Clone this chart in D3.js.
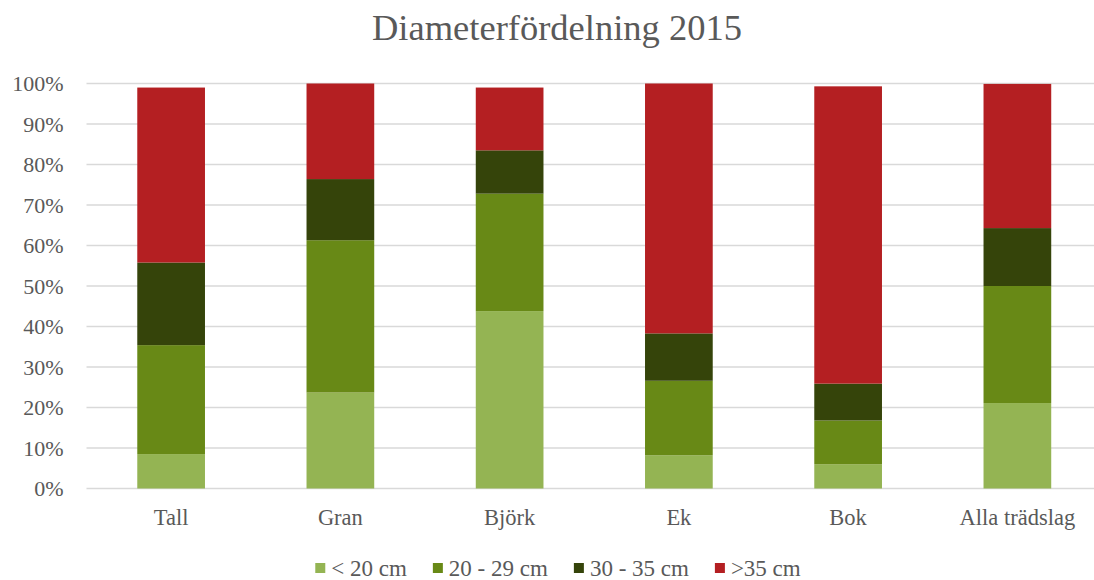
<!DOCTYPE html>
<html>
<head>
<meta charset="utf-8">
<script src="https://cdn.jsdelivr.net/npm/d3@7"></script>
<style>
  body { margin: 0; background: #fff; }
  svg { display: block; }
  text { font-family: "Liberation Serif", "Times New Roman", serif; fill: #595959; }
</style>
</head>
<body>
<div id="chart"></div>
<script>
// trädslag och diameterklasser
let categories = ['Tall', 'Gran', 'Björk', 'Ek', 'Bok', 'Alla trädslag'];
let series_names = ['< 20 cm', '20 - 29 cm', '30 - 35 cm', '>35 cm'];
let series_colors = ['#94b453', '#688916', '#35440a', '#b41f22'];

// andel i procent
let under20 = [8.5, 23.7, 43.8, 8.2, 6.0, 21.1];
let d20_29 = [26.9, 37.6, 29.0, 18.4, 10.8, 28.9];
let d30_35 = [20.4, 15.1, 10.7, 11.7, 9.1, 14.3];
let over35 = [43.2, 23.6, 15.5, 61.7, 73.4, 35.6];

let y_ticks = [0, 10, 20, 30, 40, 50, 60, 70, 80, 90, 100];

function draw_chart(containerid) {
    let width = 1094, height = 580;
    let svg = d3.select('#' + containerid).append('svg')
        .attr('width', width)
        .attr('height', height);

    let margin = ({ top: 83.5, right: -8, bottom: 91.5, left: 86.5 });

    let x = d3.scaleBand(categories, [margin.left, width - margin.right])
        .paddingInner(0.6)
        .paddingOuter(0.3);
    let y = d3.scaleLinear([0, 100], [height - margin.bottom, margin.top]);

    // rutnät
    svg.append('g')
        .selectAll('line')
        .data(y_ticks)
        .join('line')
        .attr('x1', margin.left)
        .attr('x2', width - margin.right)
        .attr('y1', d => y(d))
        .attr('y2', d => y(d))
        .attr('stroke', '#d9d9d9')
        .attr('stroke-width', 1.5);

    // y-axelns etiketter
    svg.append('g')
        .selectAll('text')
        .data(y_ticks)
        .join('text')
        .attr('x', 63.5)
        .attr('y', d => y(d))
        .attr('dy', '0.35em')
        .attr('text-anchor', 'end')
        .style('font-size', '22px')
        .text(d => d + '%');

    // staplade data
    let table = categories.map((c, i) => ({
        cat: c,
        s0: under20[i], s1: d20_29[i], s2: d30_35[i], s3: over35[i]
    }));
    let keys = ['s0', 's1', 's2', 's3'];
    let stacked = d3.stack().keys(keys)(table);

    svg.append('g')
        .selectAll('g')
        .data(stacked)
        .join('g')
        .attr('fill', (d, i) => series_colors[i])
        .selectAll('rect')
        .data(d => d)
        .join('rect')
        .attr('x', d => x(d.data.cat))
        .attr('width', x.bandwidth())
        .attr('y', d => y(d[1]))
        .attr('height', d => y(d[0]) - y(d[1]));

    // kategorier
    svg.append('g')
        .selectAll('text')
        .data(categories)
        .join('text')
        .attr('x', d => x(d) + x.bandwidth() / 2)
        .attr('y', 525)
        .attr('text-anchor', 'middle')
        .style('font-size', '22.5px')
        .text(d => d);

    // titel
    svg.append('text')
        .attr('x', 557)
        .attr('y', 40)
        .attr('text-anchor', 'middle')
        .style('font-size', '36.5px')
        .text('Diameterfördelning 2015');

    // förklaring
    let legend = svg.append('g');
    let items = legend.selectAll('g')
        .data(series_names)
        .join('g');
    items.append('rect')
        .attr('width', 10)
        .attr('height', 10)
        .attr('y', 563)
        .attr('fill', (d, i) => series_colors[i]);
    items.append('text')
        .attr('x', 16)
        .attr('y', 576)
        .style('font-size', '23px')
        .text(d => d);
    let xpos = 0;
    items.each(function () {
        let w = d3.select(this).select('text').node().getComputedTextLength();
        d3.select(this).attr('transform', `translate(${xpos},0)`);
        xpos += 16 + w + 26;
    });
    let total = xpos - 26;
    legend.attr('transform', `translate(${558 - total / 2},0)`);
}

draw_chart('chart');
</script>
</body>
</html>
